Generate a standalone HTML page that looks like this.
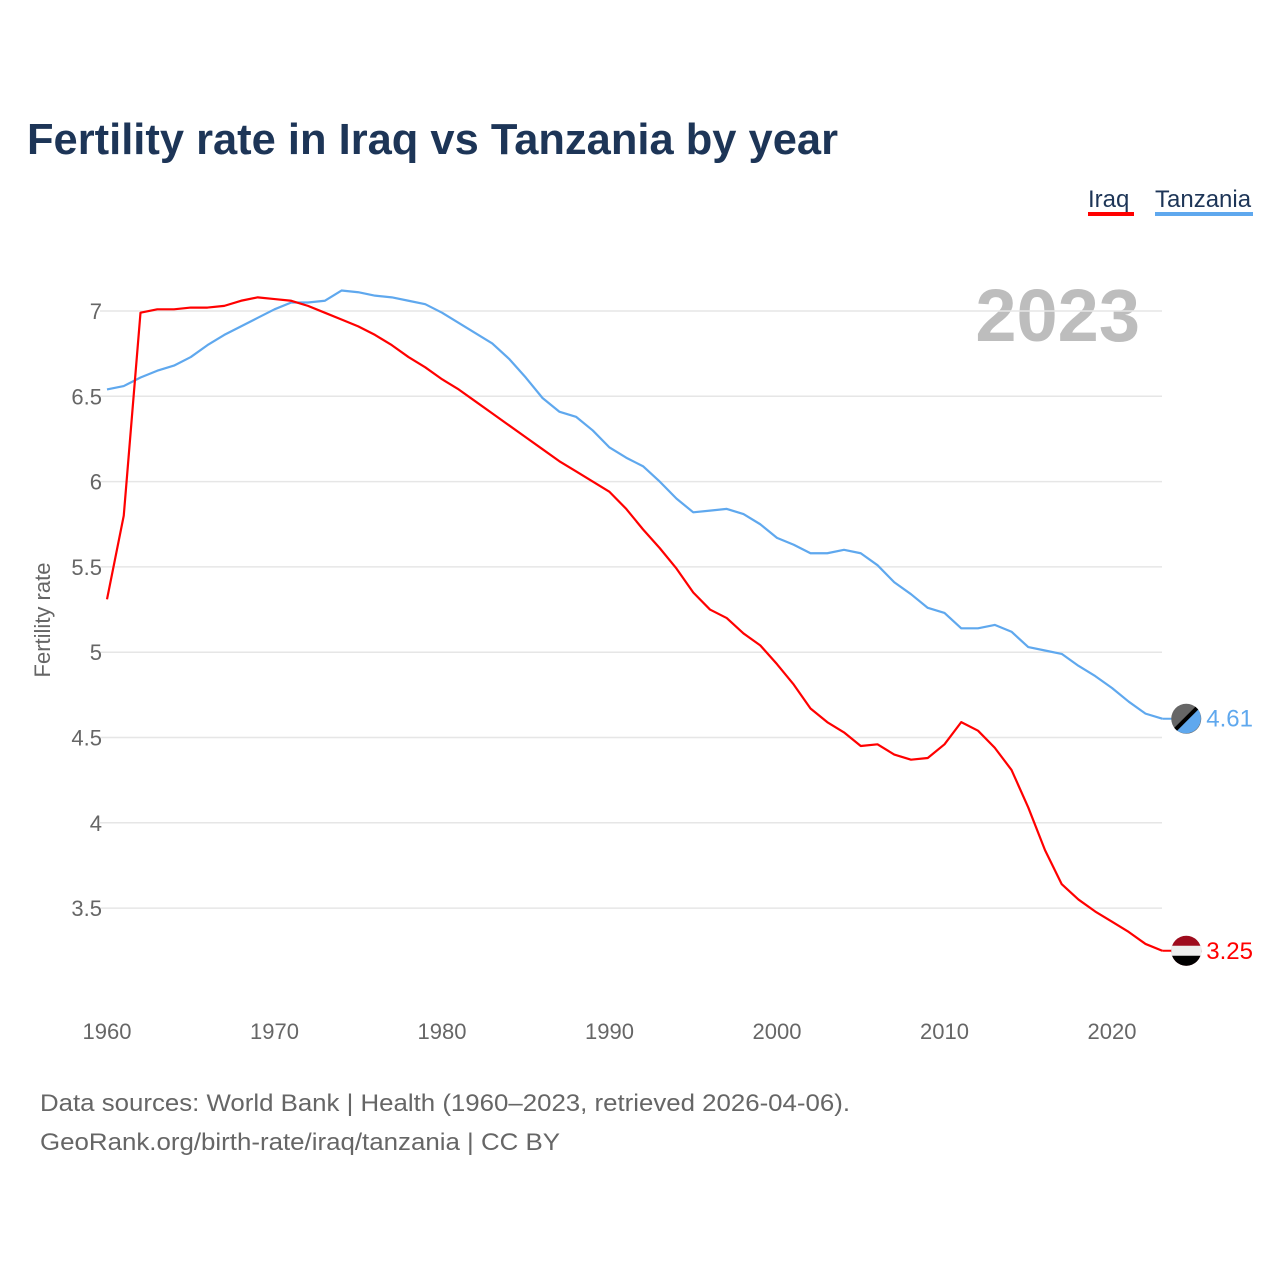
<!DOCTYPE html>
<html><head><meta charset="utf-8"><style>
body{margin:0;background:#fff;font-family:"Liberation Sans",sans-serif}
</style></head><body>
<svg width="1280" height="1280" xmlns="http://www.w3.org/2000/svg">
<text x="27" y="154" font-size="44" font-weight="bold" fill="#1d3557" textLength="811" lengthAdjust="spacingAndGlyphs">Fertility rate in Iraq vs Tanzania by year</text>
<g>
<text x="1088" y="207" font-size="24" fill="#1d3557">Iraq</text>
<rect x="1088" y="212" width="46" height="4" fill="#ff0000"/>
<text x="1155" y="207" font-size="24" fill="#1d3557">Tanzania</text>
<rect x="1155" y="212" width="98" height="4" fill="#5fa8ee"/>
</g>
<text x="1140" y="341" font-size="74" font-weight="bold" fill="#bdbdbd" text-anchor="end">2023</text>
<g id="grid"></g><g id="yt"></g><g id="xt"></g><g id="lines"></g><g id="ends"></g>
<text transform="translate(50,620) rotate(-90)" font-size="22" fill="#666" text-anchor="middle">Fertility rate</text>
<text x="40" y="1111" font-size="24" fill="#666" textLength="810" lengthAdjust="spacingAndGlyphs">Data sources: World Bank | Health (1960–2023, retrieved 2026-04-06).</text>
<text x="40" y="1150" font-size="24" fill="#666" textLength="520" lengthAdjust="spacingAndGlyphs">GeoRank.org/birth-rate/iraq/tanzania | CC BY</text>
</svg>
<script>
const years=[];for(let y=1960;y<=2023;y++)years.push(y);
const iraq=[5.31,5.80,6.99,7.01,7.01,7.02,7.02,7.03,7.06,7.08,7.07,7.06,7.03,6.99,6.95,6.91,6.86,6.80,6.73,6.67,6.60,6.54,6.47,6.40,6.33,6.26,6.19,6.12,6.06,6.00,5.94,5.84,5.72,5.61,5.49,5.35,5.25,5.20,5.11,5.04,4.93,4.81,4.67,4.59,4.53,4.45,4.46,4.40,4.37,4.38,4.46,4.59,4.54,4.44,4.31,4.09,3.84,3.64,3.55,3.48,3.42,3.36,3.29,3.25];
const tanzania=[6.54,6.56,6.61,6.65,6.68,6.73,6.80,6.86,6.91,6.96,7.01,7.05,7.05,7.06,7.12,7.11,7.09,7.08,7.06,7.04,6.99,6.93,6.87,6.81,6.72,6.61,6.49,6.41,6.38,6.30,6.20,6.14,6.09,6.00,5.90,5.82,5.83,5.84,5.81,5.75,5.67,5.63,5.58,5.58,5.60,5.58,5.51,5.41,5.34,5.26,5.23,5.14,5.14,5.16,5.12,5.03,5.01,4.99,4.92,4.86,4.79,4.71,4.64,4.61];
const yTicks=[3.5,4,4.5,5,5.5,6,6.5,7];
const xTicks=[1960,1970,1980,1990,2000,2010,2020];
const X=y=>107+(y-1960)*16.75, Y=v=>311-(v-7)*170.6;
const NS="http://www.w3.org/2000/svg";
function mk(t,a,p,txt){const e=document.createElementNS(NS,t);for(const k in a)e.setAttribute(k,a[k]);if(txt!==undefined)e.textContent=txt;document.getElementById(p).appendChild(e);return e;}
yTicks.forEach(v=>{
 const l=mk('line',{x1:100,x2:1162,y1:Y(v),y2:Y(v),stroke:'#e6e6e6','stroke-width':1.5},'grid');
 
 
 const t=mk('text',{x:102,y:Y(v)+8,'font-size':22,fill:'#666','text-anchor':'end'},'yt',String(v));
 
 
});
xTicks.forEach(v=>{
 const t=mk('text',{x:X(v),y:1039,'font-size':22,fill:'#666','text-anchor':'middle'},'xt',String(v));
 
 
});
function line(d,c,n){
 const p=mk('polyline',{points:d.map((v,i)=>X(years[i])+','+Y(v)).join(' '),fill:'none',stroke:c,'stroke-width':2.2,'stroke-linejoin':'round'},'lines');
 
 
}
line(tanzania,'#5fa8ee','tanzania-line');
line(iraq,'#ff0000','iraq-line');
function end(d,c,n,f1,f2){
 const v=d[d.length-1],x=X(2023),y=Y(v);
 mk('line',{x1:x,x2:x+10,y1:y,y2:y,stroke:c,'stroke-width':2},'ends');
 const g=mk('g',{},'ends');
 
 
 const cx=x+24;
 const top=document.createElementNS(NS,'circle');top.setAttribute('cx',cx);top.setAttribute('cy',y);top.setAttribute('r',15);top.setAttribute('fill',f1);g.appendChild(top);
 const h=document.createElementNS(NS,'path');h.setAttribute('fill',f2);
 h.setAttribute('d',n==='iraq'?`M${cx-15},${y} A15,15 0 0,0 ${cx+15},${y} Z`:`M${cx+10.6},${y-10.6} A15,15 0 0,1 ${cx-10.6},${y+10.6} Z`);g.appendChild(h);
 if(n==='iraq'){const m=document.createElementNS(NS,'rect');m.setAttribute('x',cx-15);m.setAttribute('y',y-5);m.setAttribute('width',30);m.setAttribute('height',10);m.setAttribute('fill','#eee');g.appendChild(m);}
 else{const s=document.createElementNS(NS,'line');s.setAttribute('x1',cx+10.6);s.setAttribute('y1',y-10.6);s.setAttribute('x2',cx-10.6);s.setAttribute('y2',y+10.6);s.setAttribute('stroke','#000');s.setAttribute('stroke-width',4);g.appendChild(s);}
 const t=mk('text',{x:x+44,y:y+8,'font-size':24,fill:c},'ends',v.toFixed(2));
 
 
}
end(tanzania,'#5fa8ee','tanzania','#666','#5fa8ee');
end(iraq,'#ff0000','iraq','#9e0b1d','#000');
</script>
</body></html>
